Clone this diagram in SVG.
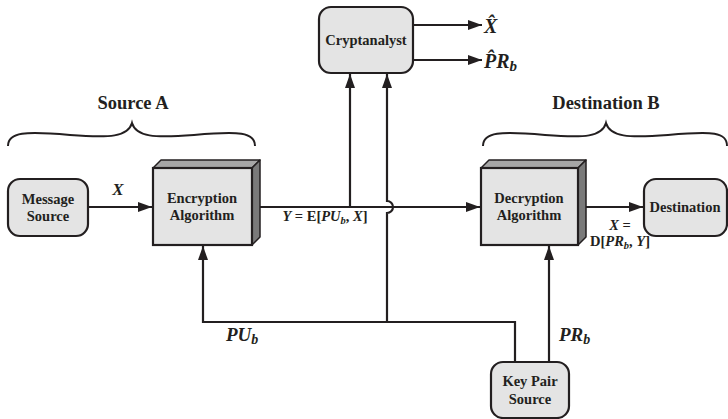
<svg xmlns="http://www.w3.org/2000/svg" width="728" height="419" viewBox="0 0 728 419" font-family="'Liberation Serif', 'Times New Roman', 'DejaVu Serif', serif">
<style>
.box{fill:#e4e4e4;stroke:#231f20;stroke-width:2.2}
.top{fill:#a6a6a6;stroke:#231f20;stroke-width:1.5;stroke-linejoin:round}
.side{fill:#7a7a7a;stroke:#231f20;stroke-width:1.5;stroke-linejoin:round}
text{font-family:'Liberation Serif','Times New Roman',serif;font-weight:bold;fill:#231f20}
.lbl{font-size:14.5px;text-anchor:middle}
.hd{font-size:18.5px;text-anchor:middle}
.it{font-style:italic}
.ln{fill:none;stroke:#231f20;stroke-width:2.2}
.br{fill:none;stroke:#231f20;stroke-width:2}
</style>
<defs>
<marker id="ah" viewBox="0 0 14 10" refX="14" refY="5" markerWidth="14" markerHeight="10" markerUnits="userSpaceOnUse" orient="auto">
<path d="M0,0 L14,5 L0,10 Z" fill="#231f20"/>
</marker>
</defs>

<g id="braces">
<path class="br" d="M8,146 C8,132 25,131 70,135 C110,138 128,137 132,123 C136,137 154,138 194,135 C239,131 255,132 255,146"/>
<text class="hd" x="133" y="109">Source A</text>
<path class="br" d="M483,146 C483,132 500,131 545,135 C585,138 602,137 606,123 C610,137 628,138 668,135 C713,131 727,132 727,146"/>
<text class="hd" x="606" y="109">Destination B</text>
</g>

<g id="connectors">
<path class="ln" d="M88,207 H152" marker-end="url(#ah)"/>
<path class="ln" d="M260,207 H480" marker-end="url(#ah)"/>
<path class="ln" d="M350,207 V74" marker-end="url(#ah)"/>
<path class="ln" d="M387,322 V213 A6,6 0 0 0 387,201 V74" marker-end="url(#ah)"/>
<path class="ln" d="M413,25 H482" marker-end="url(#ah)"/>
<path class="ln" d="M413,60 H482" marker-end="url(#ah)"/>
<path class="ln" d="M586,207 H643" marker-end="url(#ah)"/>
<path class="ln" d="M515,362 V322 H203 V246" marker-end="url(#ah)"/>
<path class="ln" d="M549,362 V246" marker-end="url(#ah)"/>
</g>

<g id="labels">
<text class="it" x="118" y="195" font-size="17" text-anchor="middle">X</text>
<text x="325" y="221" font-size="14.5" text-anchor="middle"><tspan class="it">Y</tspan> = E[<tspan class="it">PU<tspan font-size="10.5" dy="3">b</tspan></tspan><tspan dy="-3">, </tspan><tspan class="it">X</tspan>]</text>
<text x="620" y="230" font-size="14.5" text-anchor="middle"><tspan class="it">X</tspan> =</text>
<text x="620" y="246" font-size="14.5" text-anchor="middle">D[<tspan class="it">PR<tspan font-size="10.5" dy="3">b</tspan></tspan><tspan dy="-3">, </tspan><tspan class="it">Y</tspan>]</text>
<text class="it" x="226" y="341" font-size="19">PU<tspan font-size="14" dy="3">b</tspan></text>
<text class="it" x="559" y="341" font-size="19">PR<tspan font-size="14" dy="3">b</tspan></text>
<text class="it" x="484" y="33" font-size="20">X̂</text>
<text class="it" x="484" y="68" font-size="20">P̂R<tspan font-size="15" dy="3">b</tspan></text>
</g>

<g id="message-source">
<rect class="box" x="8" y="179" width="80" height="57" rx="12"/>
<text class="lbl" x="48" y="204">Message</text>
<text class="lbl" x="48" y="221">Source</text>
</g>

<g id="encryption">
<polygon class="top" points="153,168 161,160 260,160 252,168"/>
<polygon class="side" points="252,168 260,160 260,237 252,245"/>
<rect class="box" x="153" y="168" width="99" height="77"/>
<text class="lbl" x="202" y="203">Encryption</text>
<text class="lbl" x="202" y="220">Algorithm</text>
</g>

<g id="cryptanalyst">
<rect class="box" x="319" y="7" width="94" height="66" rx="12"/>
<text class="lbl" x="366" y="45">Cryptanalyst</text>
</g>

<g id="decryption">
<polygon class="top" points="481,168 489,160 586,160 578,168"/>
<polygon class="side" points="578,168 586,160 586,237 578,245"/>
<rect class="box" x="481" y="168" width="97" height="77"/>
<text class="lbl" x="529" y="203">Decryption</text>
<text class="lbl" x="529" y="220">Algorithm</text>
</g>

<g id="destination">
<rect class="box" x="644" y="179" width="83" height="57" rx="12"/>
<text class="lbl" x="685" y="212">Destination</text>
</g>

<g id="key-pair-source">
<rect class="box" x="491" y="362" width="78" height="56" rx="12"/>
<text class="lbl" x="530" y="386">Key Pair</text>
<text class="lbl" x="530" y="404">Source</text>
</g>
</svg>
